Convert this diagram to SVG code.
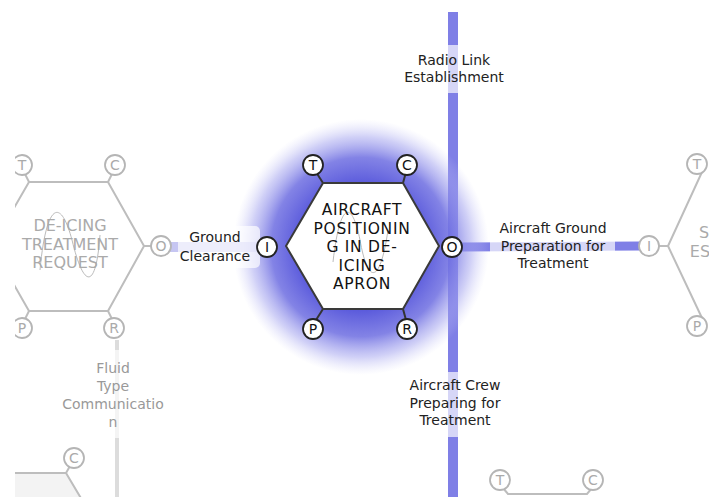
<svg xmlns="http://www.w3.org/2000/svg" width="709" height="500" viewBox="0 0 709 500">
<defs>
<radialGradient id="glow" cx="361" cy="247" r="128" gradientUnits="userSpaceOnUse">
<stop offset="0" stop-color="#5252da" stop-opacity="1"/>
<stop offset="0.5" stop-color="#5c5cdc" stop-opacity="1"/>
<stop offset="0.7" stop-color="#7272e2" stop-opacity="0.88"/>
<stop offset="0.86" stop-color="#a0a0ee" stop-opacity="0.5"/>
<stop offset="1" stop-color="#c8c8f6" stop-opacity="0"/>
</radialGradient>
<clipPath id="clip"><rect x="15" y="0" width="694" height="497"/></clipPath>
<style>
.lbl{font-family:"DejaVu Sans","Noto Sans",sans-serif;font-size:14px;fill:#222;text-anchor:middle}
.flbl{font-family:"DejaVu Sans","Noto Sans",sans-serif;font-size:14px;fill:#999;text-anchor:middle}
.band{fill:#fff;fill-opacity:0.68}
.hexm{fill:#fff;stroke:#3a3a3a;stroke-width:2}
.hexf{fill:#fff;stroke:#bdbdbd;stroke-width:2}
.stubm{stroke:#333;stroke-width:2;fill:none}
.stubf{stroke:#bdbdbd;stroke-width:2;fill:none}
.pm{fill:#fff;stroke:#222;stroke-width:1.8}
.pf{fill:#fff;stroke:#b5b5b5;stroke-width:1.8}
.pmt{font-family:"DejaVu Sans","Noto Sans",sans-serif;font-size:14px;fill:#111;text-anchor:middle}
.pft{font-family:"DejaVu Sans","Noto Sans",sans-serif;font-size:14px;fill:#aaa;text-anchor:middle}
.ttm{font-family:"DejaVu Sans","Noto Sans",sans-serif;font-size:15.5px;fill:#111;text-anchor:middle;letter-spacing:0.7px}
.ttf{font-family:"DejaVu Sans","Noto Sans",sans-serif;font-size:16px;fill:#aaa;text-anchor:middle}
.wave{fill:none;stroke:#bbb;stroke-width:1}
</style>
</defs>
<rect width="709" height="500" fill="#fff"/>
<g clip-path="url(#clip)">
<g id="connectors">
<line x1="453" y1="12" x2="453" y2="500" stroke="#7f7fe6" stroke-width="10"/>
<line x1="460" y1="247" x2="640" y2="246" stroke="#7f7fe6" stroke-width="9"/>
<line x1="170" y1="247" x2="258" y2="247" stroke="#c6c6f2" stroke-width="10"/>
<line x1="117" y1="340" x2="117" y2="500" stroke="#dcdcdc" stroke-width="4"/>
</g>
<g id="glow-bg">
<circle cx="361" cy="247" r="128" fill="url(#glow)"/>
</g>
<g id="labels">
<rect class="band" x="404" y="45" width="102" height="48"/>
<text class="lbl" x="454" y="65">Radio Link</text>
<text class="lbl" x="454" y="82">Establishment</text>
<rect class="band" x="490" y="218" width="125" height="56"/>
<text class="lbl" x="553" y="233">Aircraft Ground</text>
<text class="lbl" x="553" y="250.5">Preparation for</text>
<text class="lbl" x="553" y="268">Treatment</text>
<rect class="band" x="178" y="226" width="82" height="42" rx="5" fill-opacity="0.75"/>
<text class="lbl" x="215" y="242">Ground</text>
<text class="lbl" x="215" y="261">Clearance</text>
<rect class="band" x="400" y="372" width="110" height="65"/>
<text class="lbl" x="455" y="390">Aircraft Crew</text>
<text class="lbl" x="455" y="407.5">Preparing for</text>
<text class="lbl" x="455" y="425">Treatment</text>
<rect class="band" x="60" y="350" width="110" height="88" fill-opacity="0.8"/>
<text class="flbl" x="113" y="373">Fluid</text>
<text class="flbl" x="113" y="391">Type</text>
<text class="flbl" x="113" y="409">Communicatio</text>
<text class="flbl" x="113" y="427">n</text>
</g>
<g id="node-main">
<line class="stubm" x1="323" y1="183" x2="316" y2="172"/>
<line class="stubm" x1="403" y1="183" x2="406" y2="172"/>
<line class="stubm" x1="323" y1="309" x2="316" y2="320"/>
<line class="stubm" x1="403" y1="309" x2="406" y2="320"/>
<polygon class="hexm" points="286,246 323,183 403,183 439,246 403,309 323,309"/>
<path class="wave" d="M333,262 C340,200 352,200 360,240 C368,285 380,285 388,230"/>
<text class="ttm" x="362" y="215">AIRCRAFT</text>
<text class="ttm" x="362" y="233.5">POSITIONIN</text>
<text class="ttm" x="362" y="252">G IN DE-</text>
<text class="ttm" x="362" y="270.5">ICING</text>
<text class="ttm" x="362" y="289">APRON</text>
<circle class="pm" cx="313" cy="165" r="10"/><text class="pmt" x="313" y="170">T</text>
<circle class="pm" cx="407" cy="165" r="10"/><text class="pmt" x="407" y="170">C</text>
<circle class="pm" cx="267" cy="247" r="10"/><text class="pmt" x="267" y="252">I</text>
<circle class="pm" cx="452" cy="247" r="10"/><text class="pmt" x="452" y="252">O</text>
<circle class="pm" cx="313" cy="329" r="10"/><text class="pmt" x="313" y="334">P</text>
<circle class="pm" cx="407" cy="329" r="10"/><text class="pmt" x="407" y="334">R</text>
</g>
<g id="node-deicing-request">
<line class="stubf" x1="29" y1="182" x2="24" y2="172"/>
<line class="stubf" x1="108" y1="182" x2="113" y2="172"/>
<line class="stubf" x1="29" y1="311" x2="24" y2="321"/>
<line class="stubf" x1="108" y1="311" x2="113" y2="321"/>
<line class="stubf" x1="144" y1="246" x2="152" y2="246"/>
<polygon class="hexf" points="-8,246 29,182 108,182 144,246 108,311 29,311"/>
<path class="wave" d="M40,270 C46,205 60,195 72,240 C84,290 96,290 100,235" stroke="#ddd"/>
<text class="ttf" x="70" y="231">DE-ICING</text>
<text class="ttf" x="70" y="249.5">TREATMENT</text>
<text class="ttf" x="70" y="268">REQUEST</text>
<circle class="pf" cx="22" cy="165" r="10"/><text class="pft" x="22" y="170">T</text>
<circle class="pf" cx="115" cy="165" r="10"/><text class="pft" x="115" y="170">C</text>
<circle class="pf" cx="161" cy="246" r="10"/><text class="pft" x="161" y="251">O</text>
<circle class="pf" cx="22" cy="328" r="10"/><text class="pft" x="22" y="333">P</text>
<circle class="pf" cx="114" cy="328" r="10"/><text class="pft" x="114" y="333">R</text>
</g>
<g id="node-right">
<line class="stubf" x1="659" y1="246" x2="668" y2="246"/>
<polyline class="stubf" points="702,172 668,246 702,318"/>
<text class="ttf" x="704" y="238">S</text>
<text class="ttf" x="700" y="257">ES</text>
<circle class="pf" cx="697" cy="164" r="10"/><text class="pft" x="697" y="169">T</text>
<circle class="pf" cx="649" cy="246" r="10"/><text class="pft" x="649" y="251">I</text>
<circle class="pf" cx="697" cy="326" r="10"/><text class="pft" x="697" y="331">P</text>
</g>
<g id="node-bottom-left">
<polygon points="0,473 66,473 85,505 0,505" fill="#f3f3f3" stroke="none"/>
<polyline class="stubf" points="0,473 66,473 85,505"/>
<line class="stubf" x1="66" y1="473" x2="70" y2="466"/>
<circle class="pf" cx="74" cy="458" r="10"/><text class="pft" x="74" y="463">C</text>
</g>
<g id="node-bottom-right">
<polyline class="stubf" points="503,488 508,494 587,494 592,488"/>
<circle class="pf" cx="500" cy="480" r="10"/><text class="pft" x="500" y="485">T</text>
<circle class="pf" cx="593" cy="480" r="10"/><text class="pft" x="593" y="485">C</text>
</g>
</g>
</svg>
